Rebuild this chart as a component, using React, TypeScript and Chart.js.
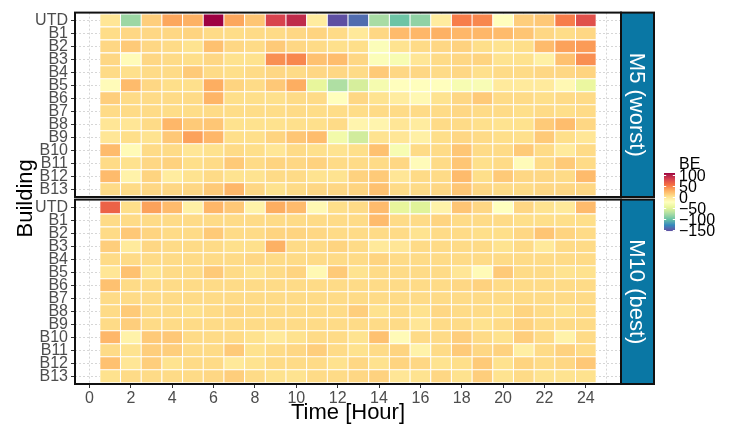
import React, { useEffect, useRef } from 'react';
import { Chart, registerables } from 'chart.js';

Chart.register(...registerables);

// ---------------- data ----------------
const BUILDINGS = ['UTD', 'B1', 'B2', 'B3', 'B4', 'B5', 'B6', 'B7', 'B8', 'B9', 'B10', 'B11', 'B12', 'B13'];
const HOURS = [1, 2, 3, 4, 5, 6, 7, 8, 9, 10, 11, 12, 13, 14, 15, 16, 17, 18, 19, 20, 21, 22, 23, 24];
const HOUR_TICKS = [0, 1, 2, 3, 4, 5, 6, 7, 8, 9, 10, 11, 12, 13, 14, 15, 16, 17, 18, 19, 20, 21, 22, 23, 24, 25];
const LEGEND_BREAKS = [100, 50, 0, -50, -100, -150];
const PANEL_LABELS = ['M5 (worst)', 'M10 (best)'];

// BE values, rows = buildings (UTD..B13), columns = hours 1..24
const M5_WORST = [
  [0, -80, 15, 35, 30, 111, 35, 20, 82, 95, -5, -153, -140, -75, -98, -85, -5, 52, 48, -20, 15, 18, 52, 75],
  [7, 10, 10, 10, 12, 8, 7, 8, 8, 10, 12, 8, -2, 10, 25, 27, 30, 27, 27, 25, 20, 10, 7, 10],
  [10, 17, 10, 8, 3, 22, 10, 8, 17, 10, 8, 5, 6, -25, 3, 8, 10, 13, 6, 3, 6, 25, 37, 40],
  [10, -18, 10, 8, 6, 10, 4, 4, 45, 48, 22, 24, 10, -25, -30, 0, 8, 10, 12, 3, 4, -8, 22, 45],
  [8, 5, 8, 8, 17, 8, 6, 8, 10, 8, 10, 10, 8, 17, 10, 10, 8, 10, 5, 8, 8, 10, 10, 12],
  [-18, 25, 10, 6, 5, 32, 12, 8, 18, 32, -45, -72, -55, -32, -20, -20, -20, -30, -28, -3, -3, -3, -15, -42],
  [15, 8, 8, 8, 8, 28, 6, 6, 5, 8, 8, -20, 10, 3, -5, -15, 3, 10, 17, 8, 8, 6, 8, 8],
  [8, 8, 8, 7, 7, 8, 7, 7, 7, 8, 7, 7, 7, 8, 8, 8, 8, 10, 8, 8, 6, 8, 6, 8],
  [0, 0, 8, 27, 17, 19, 4, 4, 4, 5, 5, 8, -12, -12, 0, -5, 8, 8, 5, 3, 4, 17, 24, 10],
  [0, 6, 3, 18, 37, 27, 6, 6, 12, 19, 24, -35, -57, 3, 0, -8, 6, 10, 8, 6, 5, 17, 6, 0],
  [25, -17, 8, 8, 0, 4, 8, 6, 0, 8, 5, 3, 6, 22, -30, 8, 8, 19, 8, 8, 17, 8, -3, 8],
  [8, 4, 10, 13, 6, 8, 17, 8, 12, 10, 13, 8, 8, 8, 10, -18, 8, 19, 5, 8, -18, 8, 17, 8],
  [25, -10, 12, -5, 3, 8, 3, 3, 8, 8, 3, 3, 13, 17, 0, 8, 8, 25, 6, 17, 10, 10, 8, 25],
  [8, 8, 10, 10, 10, 17, 27, 10, 4, 8, 10, 10, 12, 22, 8, 8, 10, 19, 10, 8, 8, 10, 10, 10],
];

const M10_BEST = [
  [65, 6, 37, 25, -8, 27, 18, -10, 32, 25, -15, 6, 8, 25, -45, -50, -10, 20, 10, -22, 10, 3, -2, 25],
  [8, 8, 8, 8, 8, 8, 8, 8, 8, 8, 8, 8, 8, 25, 8, 8, 12, 8, 8, 8, 6, 6, 6, 6],
  [8, 18, 12, 8, 8, 17, 8, 8, 12, 12, 10, 8, 8, 8, 8, 3, 8, 8, 6, 6, 10, 20, 12, 8],
  [15, -3, 10, 8, 8, 8, 5, 5, 30, 8, 8, 12, 8, -2, 0, 8, 8, 8, 8, 3, 8, -2, 8, 8],
  [8, 8, 8, 8, 8, 8, 8, 10, 8, 8, 8, 8, 8, 12, 8, 8, 8, 8, 8, 8, 8, 8, 8, 8],
  [0, 22, 3, 8, 8, 17, 8, 3, 8, 12, -15, 17, 3, 8, 8, 8, 8, 0, -17, 17, 8, 8, 3, 4],
  [22, 8, 8, 8, 8, 8, 8, 8, 8, 8, 8, 8, 8, 8, 8, 8, 8, 10, 13, 8, 8, 8, 8, 8],
  [8, 8, 8, 8, 8, 8, 8, 8, 8, 8, 8, 8, 8, 8, 8, 8, 8, 8, 8, 8, 8, 8, 8, 8],
  [8, 17, 8, 8, 5, 8, 10, 8, 8, 8, 8, 8, 15, 4, 8, 4, 10, 8, 8, 6, 12, 8, 4, 8],
  [8, 15, 8, 8, 8, 8, 8, 8, 8, 8, 8, 8, 8, 8, 8, 0, 8, 8, 4, 8, 13, 8, 8, 8],
  [27, -10, 17, 18, 8, 8, 8, 4, -2, 4, 8, 8, 3, 22, -17, 8, 8, 15, 8, 4, 15, 8, -10, 8],
  [8, 3, 15, 15, 8, 8, 17, 4, 8, 10, 15, 8, 4, 8, 12, -10, 8, 17, 10, 13, -7, 8, 13, 8],
  [22, 0, 15, 3, 8, 8, -2, 3, 8, 8, 8, 4, 10, 4, 12, 10, 3, 6, 17, 4, 12, 8, 10, 18],
  [4, 8, 8, 8, 8, 10, 15, 8, 4, 3, 8, 8, 10, 13, 0, 3, 10, 4, 15, 3, 8, 3, 3, 4],
];

const PANEL_VALUES = [M5_WORST, M10_BEST];

// Spectral (11), high -> low
const SPECTRAL = ['#9E0142', '#D53E4F', '#F46D43', '#FDAE61', '#FEE08B', '#FFFFBF', '#E6F598', '#ABDDA4', '#66C2A5', '#3288BD', '#5E4FA2'];

// ---------------- colour scale (Lab interpolation like ggplot) ----------------
const FONT = "'Liberation Sans', Arial, Helvetica, sans-serif";

function hexToRgb(h: string): number[] {
  const n = parseInt(h.slice(1), 16);
  return [(n >> 16) & 255, (n >> 8) & 255, n & 255];
}
function toLin(c: number) {
  c /= 255;
  return c <= 0.04045 ? c / 12.92 : Math.pow((c + 0.055) / 1.055, 2.4);
}
function fromLin(c: number) {
  const v = c <= 0.0031308 ? 12.92 * c : 1.055 * Math.pow(c, 1 / 2.4) - 0.055;
  return Math.max(0, Math.min(255, Math.round(v * 255)));
}
const XN = 0.95047, YN = 1, ZN = 1.08883;
function rgbToLab(rgb: number[]): number[] {
  const r = toLin(rgb[0]), g = toLin(rgb[1]), b = toLin(rgb[2]);
  const x = (0.4124564 * r + 0.3575761 * g + 0.1804375 * b) / XN;
  const y = (0.2126729 * r + 0.7151522 * g + 0.072175 * b) / YN;
  const z = (0.0193339 * r + 0.119192 * g + 0.9503041 * b) / ZN;
  const f = (t: number) => (t > 0.008856 ? Math.cbrt(t) : 7.787 * t + 16 / 116);
  const fx = f(x), fy = f(y), fz = f(z);
  return [116 * fy - 16, 500 * (fx - fy), 200 * (fy - fz)];
}
function labToRgb(lab: number[]): number[] {
  const fy = (lab[0] + 16) / 116;
  const fx = fy + lab[1] / 500;
  const fz = fy - lab[2] / 200;
  const inv = (t: number) => (t * t * t > 0.008856 ? t * t * t : (t - 16 / 116) / 7.787);
  const x = inv(fx) * XN, y = inv(fy) * YN, z = inv(fz) * ZN;
  const r = 3.2404542 * x - 1.5371385 * y - 0.4985314 * z;
  const g = -0.969266 * x + 1.8760108 * y + 0.041556 * z;
  const b = 0.0556434 * x - 0.2040259 * y + 1.0572252 * z;
  return [fromLin(r), fromLin(g), fromLin(b)];
}
const PAL_LAB = SPECTRAL.slice().reverse().map((h) => rgbToLab(hexToRgb(h)));

const allValues = PANEL_VALUES.flat(2);
const V_MIN = Math.min(...allValues);
const V_MAX = Math.max(...allValues);

function colourFor(v: number): string {
  let t = (v - V_MIN) / (V_MAX - V_MIN);
  t = Math.max(0, Math.min(1, t));
  const pos = t * (PAL_LAB.length - 1);
  const i = Math.min(PAL_LAB.length - 2, Math.floor(pos));
  const f = pos - i;
  const a = PAL_LAB[i], b = PAL_LAB[i + 1];
  const rgb = labToRgb([a[0] + (b[0] - a[0]) * f, a[1] + (b[1] - a[1]) * f, a[2] + (b[2] - a[2]) * f]);
  return `rgb(${rgb[0]},${rgb[1]},${rgb[2]})`;
}

// ---------------- facet layout (in y-axis units) ----------------
const EXPAND = 0.6; // ggplot discrete expansion
const PANEL_GAP = 0.2;
const PANEL_SPAN = BUILDINGS.length - 1 + 2 * EXPAND + PANEL_GAP;
const panelOffset = (p: number) => p * PANEL_SPAN;
const ROW_POS: number[] = [];
PANEL_VALUES.forEach((_, p) => BUILDINGS.forEach((_, r) => ROW_POS.push(panelOffset(p) + r)));
const Y_MIN = -EXPAND;
const Y_MAX = panelOffset(PANEL_VALUES.length - 1) + BUILDINGS.length - 1 + EXPAND;

function panelData(values: number[][], p: number) {
  const out: any[] = [];
  values.forEach((row, r) => {
    const yc = panelOffset(p) + r;
    row.forEach((v, h) => {
      out.push({ x: HOURS[h], y: [yc - 0.5, yc + 0.5], v });
    });
  });
  return out;
}

const fmt = (v: number) => (v < 0 ? '\u2212' + Math.abs(v) : String(v));

const facetPlugin = {
  id: 'facets',
  beforeDatasetsDraw(chart: any) {
    const { ctx, chartArea: ca, scales } = chart;
    const y = scales.y;
    ctx.save();
    ctx.fillStyle = '#ffffff';
    for (let p = 0; p < PANEL_VALUES.length - 1; p++) {
      const a = y.getPixelForValue(panelOffset(p) + BUILDINGS.length - 1 + EXPAND);
      const b = y.getPixelForValue(panelOffset(p + 1) - EXPAND);
      ctx.fillRect(ca.left, a, ca.right - ca.left, b - a);
    }
    ctx.restore();
  },
  afterDatasetsDraw(chart: any) {
    const { ctx, chartArea: ca, scales } = chart;
    const y = scales.y;
    const stripW = 33;
    ctx.save();
    PANEL_VALUES.forEach((_, p) => {
      const top = y.getPixelForValue(panelOffset(p) - EXPAND);
      const bot = y.getPixelForValue(panelOffset(p) + BUILDINGS.length - 1 + EXPAND);
      // strip
      ctx.fillStyle = '#0A77A4';
      ctx.fillRect(ca.right, top, stripW, bot - top);
      ctx.lineWidth = 2;
      ctx.strokeStyle = '#111111';
      ctx.strokeRect(ca.right, top, stripW, bot - top);
      // panel border
      ctx.strokeRect(ca.left, top, ca.right - ca.left, bot - top);
      // strip text
      ctx.save();
      ctx.translate(ca.right + stripW / 2, (top + bot) / 2);
      ctx.rotate(Math.PI / 2);
      ctx.fillStyle = '#ffffff';
      ctx.font = `22px ${FONT}`;
      ctx.textAlign = 'center';
      ctx.textBaseline = 'middle';
      ctx.fillText(PANEL_LABELS[p], 0, 1);
      ctx.restore();
    });

    // colour bar legend
    const barX = ca.right + 43;
    const barW = 11;
    const barTop = 173;
    const barH = 58;
    const vy = (v: number) => barTop + ((V_MAX - v) / (V_MAX - V_MIN)) * barH;
    for (let i = 0; i < barH; i++) {
      const v = V_MAX - ((i + 0.5) / barH) * (V_MAX - V_MIN);
      ctx.fillStyle = colourFor(v);
      ctx.fillRect(barX, barTop + i, barW, 1.05);
    }
    ctx.strokeStyle = '#ffffff';
    ctx.lineWidth = 1;
    ctx.fillStyle = '#000000';
    ctx.font = `16px ${FONT}`;
    ctx.textAlign = 'left';
    ctx.textBaseline = 'middle';
    LEGEND_BREAKS.forEach((b) => {
      const yy = Math.round(vy(b)) + 0.5;
      ctx.beginPath();
      ctx.moveTo(barX, yy);
      ctx.lineTo(barX + 2.2, yy);
      ctx.moveTo(barX + barW - 2.2, yy);
      ctx.lineTo(barX + barW, yy);
      ctx.stroke();
      ctx.fillText(fmt(b), barX + 15, vy(b) + 1);
    });
    ctx.fillText('BE', barX + 15, barTop - 8);
    ctx.restore();
  },
};

export default function App() {
  const ref = useRef<HTMLCanvasElement>(null);
  useEffect(() => {
    const canvas = ref.current;
    if (!canvas) return;
    Chart.defaults.font.family = FONT;
    const chart = new Chart(canvas, {
      type: 'bar',
      data: {
        datasets: PANEL_VALUES.map((vals, p) => ({
          label: PANEL_LABELS[p],
          data: panelData(vals, p),
          grouped: false,
          barPercentage: 1,
          categoryPercentage: 1,
          borderWidth: 0.85,
          borderColor: '#ffffff',
          borderSkipped: false,
          backgroundColor: (c: any) => (c.raw ? colourFor(c.raw.v) : '#ffffff'),
        })),
      },
      options: {
        animation: false,
        responsive: false,
        devicePixelRatio: 1,
        events: [],
        layout: { padding: { top: 5, right: 120, left: 0, bottom: 0 } },
        plugins: { legend: { display: false }, tooltip: { enabled: false }, colors: { enabled: false } },
        scales: {
          x: {
            type: 'linear',
            min: -0.7,
            max: 25.7,
            offset: false,
            afterBuildTicks: (s: any) => {
              s.ticks = HOUR_TICKS.map((v) => ({ value: v }));
            },
            afterFit: (s: any) => {
              s.height = 45;
            },
            ticks: {
              autoSkip: false,
              maxRotation: 0,
              padding: 1,
              color: '#4D4D4D',
              font: { size: 16, family: FONT },
              callback: (v: any) => (Number(v) % 2 === 0 ? String(v) : ''),
            },
            grid: {
              offset: false,
              color: '#D6D6D6',
              lineWidth: 1,
              tickLength: 4,
              tickWidth: 1,
              tickColor: (c: any) => (c.tick && c.tick.value % 2 === 0 ? '#333333' : 'rgba(0,0,0,0)'),
            },
            border: { display: false, dash: [2, 2] },
            title: {
              display: true,
              text: 'Time [Hour]',
              color: '#000000',
              font: { size: 22, family: FONT },
              padding: { top: 0, bottom: 3 },
            },
          },
          y: {
            type: 'linear',
            reverse: true,
            min: Y_MIN,
            max: Y_MAX,
            beginAtZero: false,
            afterBuildTicks: (s: any) => {
              s.ticks = ROW_POS.map((v) => ({ value: v }));
            },
            afterFit: (s: any) => {
              s.width = 75;
            },
            ticks: {
              autoSkip: false,
              padding: 3,
              color: '#4D4D4D',
              font: { size: 16, family: FONT },
              callback: (_v: any, i: number) => BUILDINGS[i % BUILDINGS.length],
            },
            grid: {
              color: '#D6D6D6',
              lineWidth: 1,
              tickLength: 4,
              tickWidth: 1,
              tickColor: '#333333',
            },
            border: { display: false, dash: [2, 2] },
            title: {
              display: true,
              text: 'Building',
              color: '#000000',
              font: { size: 22, family: FONT },
              padding: { top: 13, bottom: 0 },
            },
          },
        },
      } as any,
      plugins: [facetPlugin],
    });
    return () => chart.destroy();
  }, []);

  return (
    <div style={{ position: 'fixed', left: 0, top: 0, width: 741, height: 429, background: '#ffffff' }}>
      <canvas ref={ref} width={741} height={429} style={{ display: 'block', width: 741, height: 429 }} />
    </div>
  );
}
